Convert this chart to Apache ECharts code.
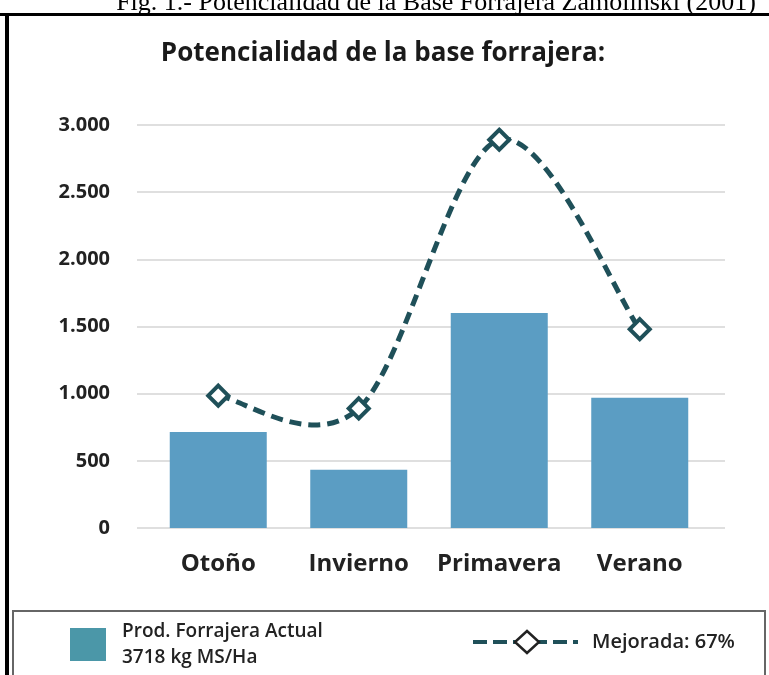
<!DOCTYPE html>
<html>
<head>
<meta charset="utf-8">
<script src="https://cdn.jsdelivr.net/npm/echarts@6/dist/echarts.min.js"></script>
<style>
html,body{margin:0;padding:0;background:#fff;}
#chart{width:769px;height:675px;}
</style>
</head>
<body>
<div id="chart"></div>
<script>
const figCaption = 'Fig. 1.- Potencialidad de la Base Forrajera Zamolinski (2001)';
const chartTitle = 'Potencialidad de la base forrajera:';
const categories = ['Otoño', 'Invierno', 'Primavera', 'Verano'];
const actualValues = [715, 433, 1600, 970];
const improvedValues = [985, 890, 2890, 1480];
const yMin = 0, yMax = 3000, yInterval = 500;
const legendActualText = ['Prod. Forrajera Actual', '3718 kg MS/Ha'];
const legendImprovedText = 'Mejorada: 67%';

const FONT = '"Open Sans", "Noto Sans", sans-serif';
const BAR_COLOR = '#5b9dc3';
const LINE_COLOR = '#1f5059';

function fmt(v){ return String(v).replace(/\B(?=(\d{3})+(?!\d))/g, '.'); }

// Cardinal (Catmull-Rom) spline through the data points, computed from axis coordinates
function renderCurve(params, api) {
  if (params.dataIndexInside !== 0) return null;
  const n = params.dataInsideLength;
  const p = [];
  for (let j = 0; j < n; j++) p.push(api.coord([api.value(0, j), api.value(1, j)]));
  let d = 'M' + p[0][0] + ' ' + p[0][1];
  for (let i = 0; i < n - 1; i++) {
    const p0 = p[Math.max(i - 1, 0)], p1 = p[i], p2 = p[i + 1], p3 = p[Math.min(i + 2, n - 1)];
    const c1x = p1[0] + (p2[0] - p0[0]) / 6, c1y = p1[1] + (p2[1] - p0[1]) / 6;
    const c2x = p2[0] - (p3[0] - p1[0]) / 6, c2y = p2[1] - (p3[1] - p1[1]) / 6;
    d += ' C' + c1x + ' ' + c1y + ' ' + c2x + ' ' + c2y + ' ' + p2[0] + ' ' + p2[1];
  }
  return {
    type: 'path',
    shape: {pathData: d},
    style: {fill: 'none', stroke: LINE_COLOR, lineWidth: 5, lineDash: [12, 7]}
  };
}

const chart = echarts.init(document.getElementById('chart'), null, {renderer:'canvas'});
chart.setOption({
  backgroundColor: '#ffffff',
  animation: false,
  grid: [
    {left: 137, right: 44, top: 125, bottom: 147},
    {left: 148, right: 59, top: 125, bottom: 147}
  ],
  xAxis: [
    {gridIndex: 0, type: 'value', show: false, min: 0, max: 1},
    {gridIndex: 1, type: 'category', data: categories,
     axisLine: {show: false}, axisTick: {show: false},
     axisLabel: {interval: 0, margin: 24, color: '#222', fontFamily: FONT, fontWeight: 'bold', fontSize: 24}}
  ],
  yAxis: [
    {gridIndex: 0, type: 'value', min: yMin, max: yMax, interval: yInterval,
     axisLine: {show: false}, axisTick: {show: false},
     splitLine: {lineStyle: {color: '#d4d4d4', width: 1.5}},
     axisLabel: {margin: 27, color: '#222', fontFamily: FONT, fontWeight: 'bold', fontSize: 20, formatter: fmt}},
    {gridIndex: 1, type: 'value', min: yMin, max: yMax, interval: yInterval, show: false, splitLine: {show: false}}
  ],
  series: [
    {type: 'bar', xAxisIndex: 1, yAxisIndex: 1, data: actualValues, barWidth: 97,
     itemStyle: {color: BAR_COLOR}},
    {type: 'custom', xAxisIndex: 1, yAxisIndex: 1, renderItem: renderCurve,
     data: improvedValues.map((v, i) => [i, v]), z: 4},
    {type: 'line', xAxisIndex: 1, yAxisIndex: 1, data: improvedValues,
     symbol: 'diamond', symbolSize: 20, showAllSymbol: true,
     lineStyle: {opacity: 0},
     itemStyle: {color: '#ffffff', borderColor: LINE_COLOR, borderWidth: 4}, z: 6}
  ],
  graphic: [
    {type: 'text', x: 436, y: 16, z: 10,
     style: {text: figCaption, fill: '#000', font: '26px "Liberation Serif", "Times New Roman", serif',
             align: 'center', verticalAlign: 'bottom'}},
    {type: 'rect', z: 11, shape: {x: 0, y: 13, width: 769, height: 3}, style: {fill: '#000'}},
    {type: 'rect', z: 11, shape: {x: 5, y: 13, width: 4, height: 662}, style: {fill: '#000'}},
    {type: 'text', x: 383, y: 54, z: 10,
     style: {text: chartTitle, fill: '#1a1a1a', font: 'bold 26px ' + FONT, align: 'center', verticalAlign: 'middle'}},
    {type: 'rect', z: 10, shape: {x: 13, y: 611, width: 752, height: 80},
     style: {fill: 'none', stroke: '#666', lineWidth: 2}},
    {type: 'rect', z: 10, shape: {x: 70, y: 628, width: 36, height: 33}, style: {fill: '#4b97a8'}},
    {type: 'text', x: 122, y: 632, z: 10,
     style: {text: legendActualText[0], fill: '#222', font: '600 19px ' + FONT, align: 'left', verticalAlign: 'middle'}},
    {type: 'text', x: 122, y: 658, z: 10,
     style: {text: legendActualText[1], fill: '#222', font: '600 19px ' + FONT, align: 'left', verticalAlign: 'middle'}},
    {type: 'line', z: 10, shape: {x1: 473, y1: 642, x2: 578, y2: 642},
     style: {stroke: LINE_COLOR, lineWidth: 4, lineDash: [14, 6]}},
    {type: 'polygon', z: 11, shape: {points: [[527, 631], [539, 642], [527, 653], [515, 642]]},
     style: {fill: '#fff', stroke: '#222', lineWidth: 2.5}},
    {type: 'text', x: 592, y: 642, z: 10,
     style: {text: legendImprovedText, fill: '#222', font: '600 20px ' + FONT, align: 'left', verticalAlign: 'middle'}}
  ]
});
</script>
</body>
</html>
